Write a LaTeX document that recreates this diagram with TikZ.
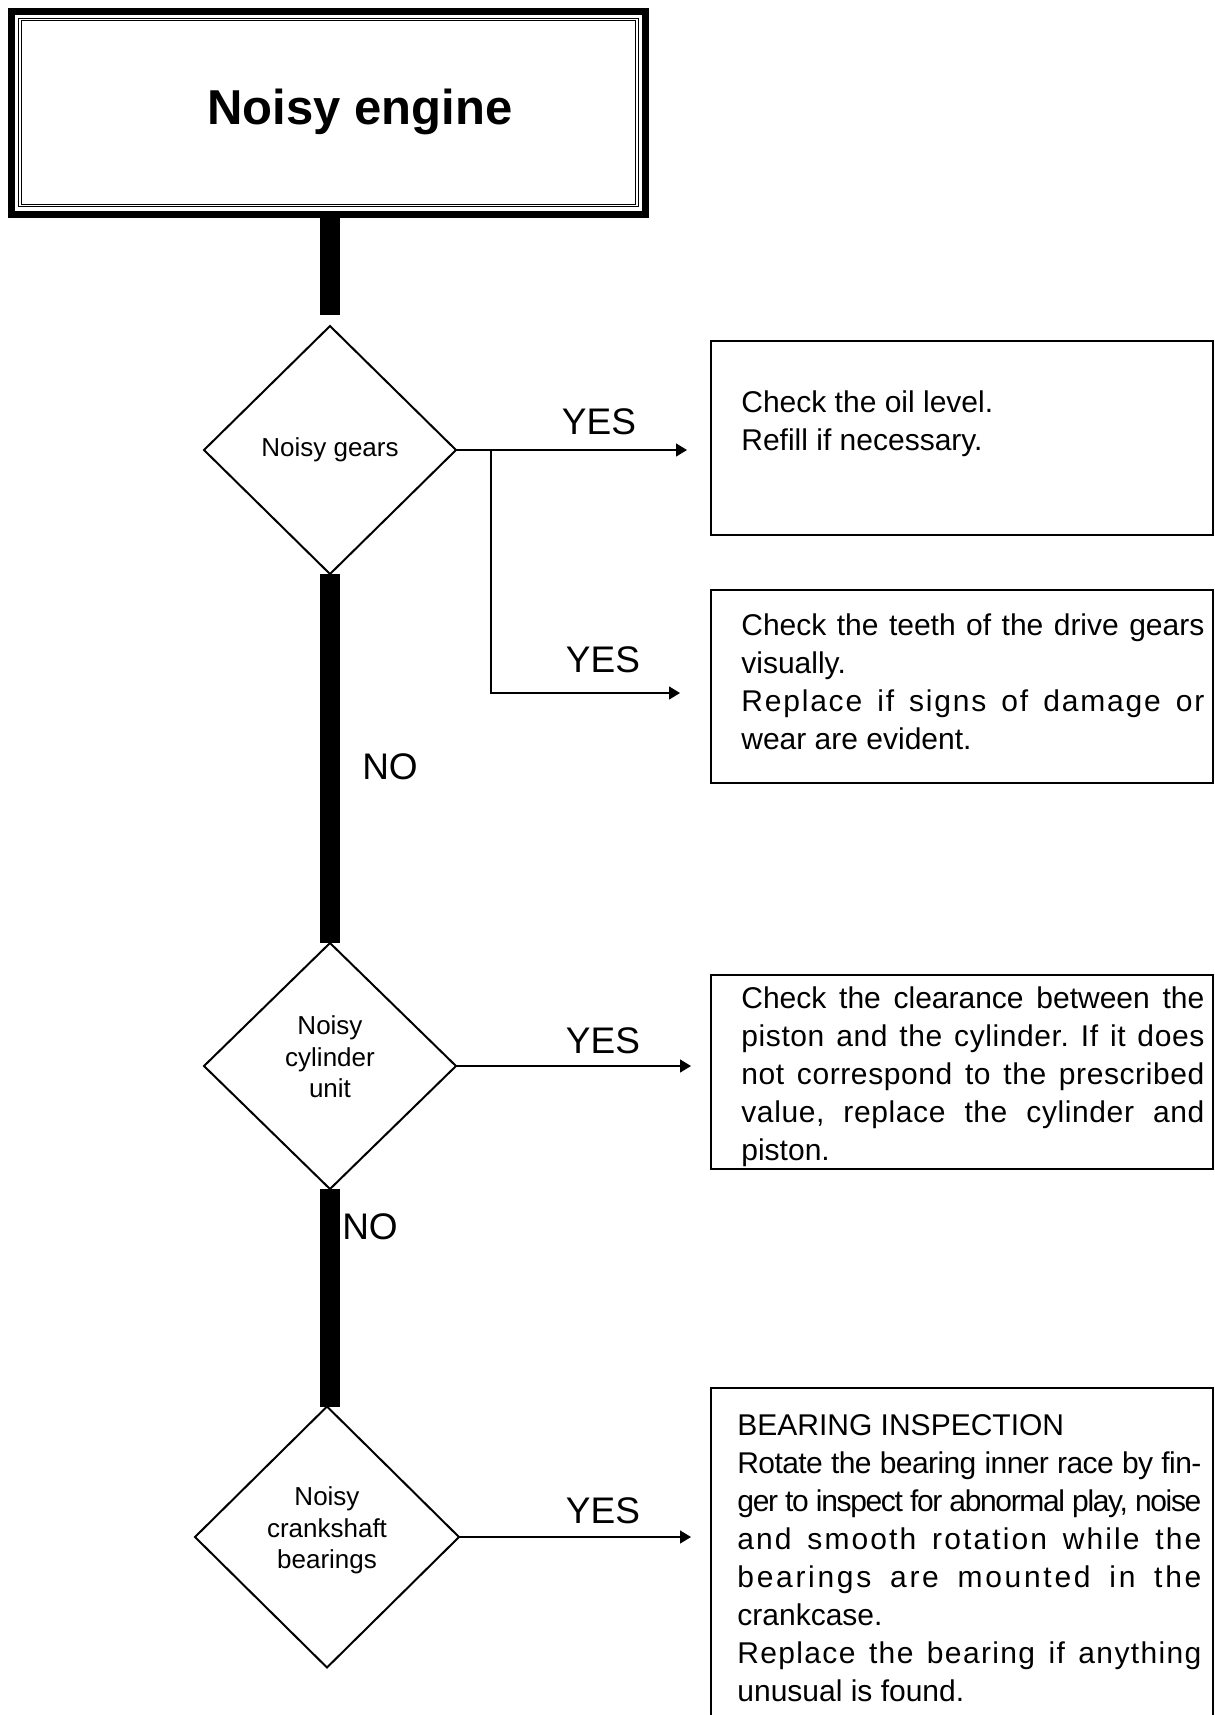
\documentclass[tikz,border=0pt]{standalone}
\usepackage{fontspec}
\setmainfont{Liberation Sans}
\usepackage{graphicx}
\usetikzlibrary{shapes.geometric,arrows.meta}

\tikzset{
  decision/.style={diamond, draw, line width=1pt, inner sep=0pt, outer sep=0pt,
    align=center, font=\fontsize{13}{15.75}\selectfont},
  actionbox/.style={rectangle, draw, line width=1.1pt, inner sep=0pt, outer sep=0pt,
    anchor=north west, minimum width=251pt},
  boxtext/.style={anchor=base west, inner sep=0pt, align=left,
    font=\fontsize{15}{19}\selectfont,
    execute at begin node={\frenchspacing\spaceskip=0pt\xspaceskip=0pt}},
  answer/.style={anchor=base, inner sep=0pt, font=\fontsize{18.5}{22}\selectfont},
  trunk/.style={line width=10pt},
  flow/.style={line width=0.7pt, -{Triangle[length=5.5pt,width=6.5pt]}},
}
% justified line, letters tracked by #1 (percent of em)
\newcommand{\track}[2]{\makebox[\hsize][s]{\addfontfeature{LetterSpace=#1}\spaceskip=0pt\xspaceskip=0pt #2}}
\newcommand{\qlines}[1]{\raisebox{0pt}[0pt][0pt]{\begin{tabular}{@{}c@{}}#1\end{tabular}}}

\begin{document}
\begin{tikzpicture}[x=0.5pt,y=-0.5pt]
  \useasboundingbox (0,0) rectangle (1215,1715);
  \clip (0,0) rectangle (1215,1715);

  % start
  \node[draw, line width=3.5pt, inner sep=0pt, outer sep=0pt,
    minimum width=317pt, minimum height=101.5pt] (title) at (328.5,113) {};
  \draw[double, line width=0.4pt, double distance=0.8pt]
    ([shift={(8.5,8)}]title.north west) rectangle ([shift={(-8.5,-9)}]title.south east);
  \node[anchor=base, inner sep=0pt, font=\fontsize{24.5}{29}\selectfont\bfseries]
    (titletext) at (360,124) {Noisy engine};

  % questions
  \node[decision, minimum width=126pt, minimum height=124pt] (gears) at (330,450) {Noisy gears};
  \node[decision, minimum width=126pt, minimum height=123pt] (cylinder) at (330,1066)
    {\qlines{Noisy\\cylinder\\unit}};
  \node[decision, minimum width=132pt, minimum height=130.5pt] (crankshaft) at (327,1537)
    {\qlines{Noisy\\crankshaft\\bearings}};

  % remedies
  \node[actionbox, minimum height=97pt] (oil) at (711,341) {};
  \node[boxtext, text width=231.5pt] (oiltext) at ([shift={(30,71)}]oil.north west)
    {Check the oil level.\\Refill if necessary.};

  \node[actionbox, minimum height=96.5pt] (teeth) at (711,590) {};
  \node[boxtext, text width=231.5pt] (teethtext) at ([shift={(30,45)}]teeth.north west)
    {\track{0}{Check the teeth of the drive gears}\\
     visually.\\
     \track{6}{Replace if signs of damage or}\\
     wear are evident.};

  \node[actionbox, minimum height=97pt] (clearance) at (711,975) {};
  \node[boxtext, text width=231.5pt] (clearancetext) at ([shift={(30,33)}]clearance.north west)
    {\track{0}{Check the clearance between the}\\
     \track{2}{piston and the cylinder. If it does}\\
     \track{2}{not correspond to the prescribed}\\
     \track{2}{value, replace the cylinder and}\\
     piston.};

  \node[actionbox, minimum height=175pt] (bearing) at (711,1388) {};
  \node[boxtext, text width=232pt] (bearingtext) at ([shift={(26,47)}]bearing.north west)
    {BEARING INSPECTION\\
     \track{-2}{Rotate the bearing inner race by fin-}\\
     \track{-4.5}{ger to inspect for abnormal play, noise}\\
     \track{7}{and smooth rotation while the}\\
     \track{9}{bearings are mounted in the}\\
     crankcase.\\
     \track{4.5}{Replace the bearing if anything}\\
     unusual is found.};

  % answers
  \node[answer] (yes1) at (599,434) {YES};
  \node[answer] (yes2) at (603,672) {YES};
  \node[answer] (yes3) at (603,1053) {YES};
  \node[answer] (yes4) at (603,1523) {YES};
  \node[answer] (no1) at (390,779) {NO};
  \node[answer] (no2) at (370,1239) {NO};

  \coordinate (fork) at (491,451);
  \coordinate (bend) at (491,693);

  \begin{scope}
    \draw[trunk, shorten >=5.5pt] (gears.north |- title.south) -- (gears.north);
    \draw[trunk] (gears.south) -- (cylinder.north);
    \draw[trunk] (cylinder.south) -- (cylinder.south |- crankshaft.north);
    \draw[flow, shorten >=12pt] (gears.east) -- (gears.east -| oil.west);
    \draw[flow, shorten >=15.5pt] (fork) -- (bend) -- (bend -| teeth.west);
    \draw[flow, shorten >=10pt] (cylinder.east) -- (cylinder.east -| clearance.west);
    \draw[flow, shorten >=10pt] (crankshaft.east) -- (crankshaft.east -| bearing.west);
  \end{scope}
\end{tikzpicture}
\end{document}
